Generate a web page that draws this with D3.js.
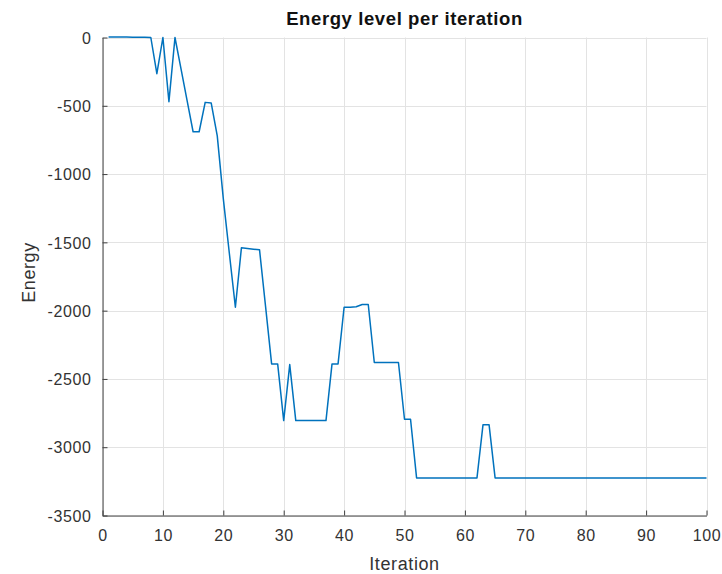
<!DOCTYPE html>
<html>
<head>
<meta charset="utf-8">
<script src="https://cdn.jsdelivr.net/npm/d3@7"></script>
<style>
  html, body { margin: 0; padding: 0; background: #fff; }
  svg { display: block; font-family: "Liberation Sans", Arial, Helvetica, sans-serif; }
</style>
</head>
<body>
<svg id="chart" width="722" height="574"></svg>
<script>
// ---- data ----
const titleText = "Energy level per iteration";
const xLabel = "Iteration";
const yLabel = "Energy";
const xTicks = [0, 10, 20, 30, 40, 50, 60, 70, 80, 90, 100];
const yTicks = [0, -500, -1000, -1500, -2000, -2500, -3000, -3500];
const iterationStart = 1;
const energy = [
  4, 4, 3, 3, 2, 1, 1, 0,                 // 1-8
  -265, 0, -470, 0, -230, -460, -690, -690, // 9-16
  -475, -480, -720, -1180, -1580, -1975,    // 17-22
  -1540, -1545, -1550, -1555, -1970,        // 23-27
  -2390, -2390, -2805, -2395, -2805,        // 28-32
  -2805, -2805, -2805, -2805, -2805,        // 33-37
  -2390, -2390, -1975, -1975, -1972,        // 38-42
  -1955, -1955, -2380, -2380, -2380,        // 43-47
  -2380, -2380, -2795, -2795,               // 48-51
  -3225, -3225, -3225, -3225, -3225, -3225, // 52-57
  -3225, -3225, -3225, -3225, -3225,        // 58-62
  -2835, -2835,                             // 63-64
  -3225, -3225, -3225, -3225, -3225, -3225, -3225, -3225, -3225, -3225, // 65-74
  -3225, -3225, -3225, -3225, -3225, -3225, -3225, -3225, -3225, -3225, // 75-84
  -3225, -3225, -3225, -3225, -3225, -3225, -3225, -3225, -3225, -3225, // 85-94
  -3225, -3225, -3225, -3225, -3225, -3225                              // 95-100
];

// ---- layout ----
const L = 102.5, R = 706.5, T = 37.5, B = 515.5;
const svg = d3.select("#chart");
const x = d3.scaleLinear().domain([0, 100]).range([L, R]);
const y = d3.scaleLinear().domain([-3500, 0]).range([B, T]);

// grid
const grid = svg.append("g");
grid.selectAll("line.gx").data(xTicks).enter().append("line")
  .attr("x1", d => Math.round(x(d)) + 0.5).attr("x2", d => Math.round(x(d)) + 0.5)
  .attr("y1", T).attr("y2", B)
  .attr("stroke", "#e3e3e3").attr("stroke-width", 1);
grid.selectAll("line.gy").data(yTicks).enter().append("line")
  .attr("y1", d => Math.round(y(d)) + 0.5).attr("y2", d => Math.round(y(d)) + 0.5)
  .attr("x1", L).attr("x2", R)
  .attr("stroke", "#e3e3e3").attr("stroke-width", 1);

// axes
const axisColor = "#404040";
const fmt = d => String(d);
const xAxis = d3.axisBottom(x).tickValues(xTicks).tickFormat(fmt).tickSizeInner(-5).tickSizeOuter(0).tickPadding(14);
const yAxis = d3.axisLeft(y).tickValues(yTicks).tickFormat(fmt).tickSizeInner(-5).tickSizeOuter(0).tickPadding(11);

const gx = svg.append("g").attr("transform", `translate(0,${B})`).call(xAxis);
const gy = svg.append("g").attr("transform", `translate(${L},0)`).call(yAxis);
[gx, gy].forEach(g => {
  g.select(".domain").attr("stroke", axisColor).attr("stroke-width", 1);
  g.selectAll(".tick line").attr("stroke", axisColor);
  g.selectAll(".tick text")
    .attr("fill", "#333")
    .style("font-size", "16px")
    .style("letter-spacing", "0.6px")
    .style("font-family", "'Liberation Sans', Arial, sans-serif");
});
gy.selectAll(".tick text").attr("dy", "0.36em");

// line
const line = d3.line()
  .x((d, i) => x(i + iterationStart))
  .y(d => y(d));
svg.append("path")
  .datum(energy)
  .attr("d", line)
  .attr("fill", "none")
  .attr("stroke", "#0072BD")
  .attr("stroke-width", 1.5)
  .attr("stroke-linejoin", "round");

// title & labels
svg.append("text")
  .attr("x", (L + R) / 2).attr("y", 25)
  .attr("text-anchor", "middle")
  .style("font-size", "18.5px").style("font-weight", "bold")
  .style("letter-spacing", "0.6px")
  .attr("fill", "#111")
  .text(titleText);

svg.append("text")
  .attr("x", (L + R) / 2).attr("y", 570)
  .attr("text-anchor", "middle")
  .style("font-size", "18px")
  .style("letter-spacing", "0.6px")
  .attr("fill", "#333")
  .text(xLabel);

svg.append("text")
  .attr("transform", `translate(35,${(T + B) / 2 - 4}) rotate(-90)`)
  .attr("text-anchor", "middle")
  .style("font-size", "18px")
  .style("letter-spacing", "0.6px")
  .attr("fill", "#333")
  .text(yLabel);
</script>
</body>
</html>
